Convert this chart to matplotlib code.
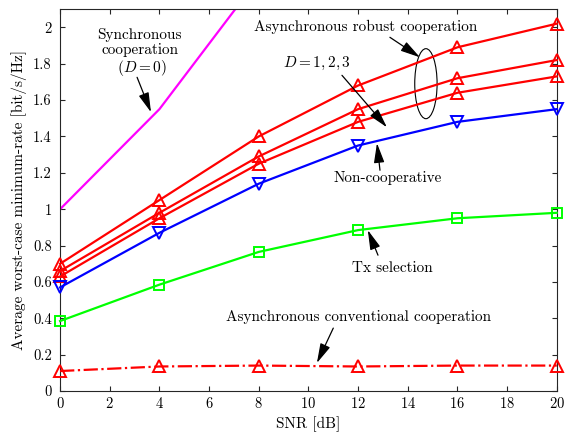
import numpy as np
import matplotlib
matplotlib.use('Agg')
import matplotlib.pyplot as plt
from matplotlib.patches import Ellipse

plt.rcParams['font.family'] = 'serif'
plt.rcParams['font.serif'] = ['cmr10', 'DejaVu Serif']
plt.rcParams['mathtext.fontset'] = 'cm'
plt.rcParams['axes.unicode_minus'] = False
plt.rcParams['axes.formatter.use_mathtext'] = True

# datos
snr = [0, 4, 8, 12, 16, 20]
sync = [1.0, 1.55, 2.27, 2.95, 3.5, 3.9]
robust_d1 = [0.70, 1.05, 1.40, 1.68, 1.89, 2.02]
robust_d2 = [0.66, 0.98, 1.29, 1.55, 1.72, 1.82]
robust_d3 = [0.63, 0.95, 1.25, 1.48, 1.64, 1.73]
noncoop = [0.57, 0.87, 1.14, 1.35, 1.48, 1.55]
tx_sel = [0.385, 0.585, 0.765, 0.885, 0.95, 0.98]
conv = [0.11, 0.135, 0.14, 0.135, 0.14, 0.14]

fig = plt.figure(figsize=(5.67, 4.34), dpi=100)
ax = fig.add_axes([0.106, 0.099, 0.876, 0.880])

ax.plot(snr, sync, color='#ff00ff', lw=1.6)
mk = dict(ms=8.5, mfc='none', mew=1.4, clip_on=False, zorder=3)
for r in (robust_d1, robust_d2, robust_d3):
    ax.plot(snr, r, color='red', lw=1.6, marker='^', **mk)
ax.plot(snr, noncoop, color='blue', lw=1.6, marker='v', **mk)
ax.plot(snr, tx_sel, color='#00ff00', lw=1.6, marker='s', ms=6.5, mfc='none', mew=1.4,
        clip_on=False, zorder=3)
ax.plot(snr, conv, color='red', lw=1.6, ls='-.', marker='^', **mk)

ax.set_xlim(0, 20)
ax.set_ylim(0, 2.1)
ax.set_xticks(np.arange(0, 21, 2))
ax.set_yticks(np.arange(0, 2.01, 0.2))
ax.set_yticklabels(['0', '0.2', '0.4', '0.6', '0.8', '1', '1.2', '1.4', '1.6', '1.8', '2'])
ax.tick_params(direction='in', top=True, right=True, labelsize=10.5, color='#262626')
ax.tick_params(axis='y', pad=6)
for s in ax.spines.values():
    s.set_color('#262626')
    s.set_linewidth(0.8)
ax.set_xlabel('SNR [dB]', fontsize=11)
ax.set_ylabel('Average worst-case minimum-rate [bit/s/Hz]', fontsize=11)

ap = dict(arrowstyle='-|>,head_length=0.75,head_width=0.2', color='black', lw=0.9,
          mutation_scale=16, shrinkA=0, shrinkB=0)
fs = 11
ax.annotate('', xy=(3.66, 1.533), xytext=(3.1, 1.725), arrowprops=ap)
ax.text(3.2, 1.86, 'Synchronous\ncooperation\n $(D=0)$', ha='center', va='center',
        fontsize=fs, linespacing=1.1)

ax.annotate('', xy=(14.49, 1.835), xytext=(13.28, 1.945), arrowprops=ap)
ax.text(12.3, 2.0, 'Asynchronous robust cooperation', ha='center', va='center', fontsize=fs)
ax.add_patch(Ellipse((14.73, 1.69), 0.9, 0.385, fill=False, color='black', lw=0.8))

ax.annotate('', xy=(13.16, 1.45), xytext=(11.35, 1.736), arrowprops=ap)
ax.text(10.34, 1.80, '$D = 1, 2, 3$', ha='center', va='center', fontsize=fs)

ax.annotate('', xy=(12.76, 1.363), xytext=(12.88, 1.214), arrowprops=ap)
ax.text(13.2, 1.17, 'Non-cooperative', ha='center', va='center', fontsize=fs)

ax.annotate('', xy=(12.39, 0.885), xytext=(12.8, 0.747), arrowprops=ap)
ax.text(13.36, 0.676, 'Tx selection', ha='center', va='center', fontsize=fs)

ax.annotate('', xy=(10.34, 0.154), xytext=(11.0, 0.346), arrowprops=ap)
ax.text(12.0, 0.407, 'Asynchronous conventional cooperation', ha='center', va='center', fontsize=fs)

fig.savefig('out.png', dpi=100)
